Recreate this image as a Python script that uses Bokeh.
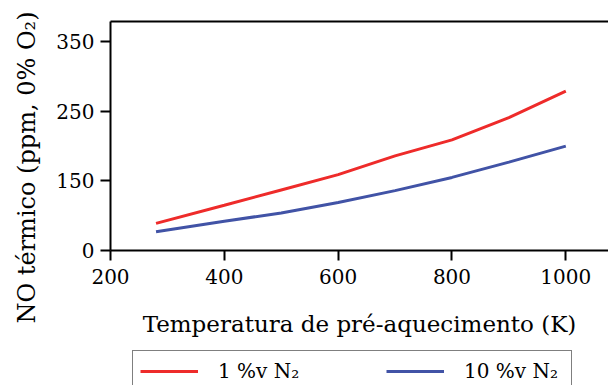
from bokeh.plotting import figure
from bokeh.layouts import column
from bokeh.models import (Range1d, FixedTicker, LinearAxis, Legend, LegendItem, Title)
from bokeh.embed import file_html
from bokeh.resources import INLINE

# data
temperature = [280, 400, 500, 600, 700, 800, 900, 1000]
no_1pct = [89, 115, 137, 159, 186, 209, 241, 279]
no_10pct = [77, 92, 104, 119, 136, 155, 177, 200]
x_ticks = [200, 400, 600, 800, 1000]
y_ticks = [50, 150, 250, 350]
y_tick_labels = {50: "0", 150: "150", 250: "250", 350: "350"}
series_labels = ["1 %v N\u2082", "10 %v N\u2082"]
series_colors = ["#EE2B2A", "#4153A6"]

FONT = "DejaVu Serif"

p = figure(width=608, height=349, output_backend="svg", toolbar_location=None,
           x_range=Range1d(200, 1075), y_range=Range1d(50, 379),
           min_border_left=108, min_border_right=0, min_border_top=21,
           min_border_bottom=99)
p.outline_line_color = None
p.grid.visible = False
p.background_fill_color = "white"
p.border_fill_color = "white"

p.line(temperature, no_1pct, line_color=series_colors[0], line_width=3)
p.line(temperature, no_10pct, line_color=series_colors[1], line_width=3)

for ax in (p.xaxis[0], p.yaxis[0]):
    ax.axis_line_width = 2
    ax.axis_line_color = "black"
    ax.major_tick_line_width = 2
    ax.major_tick_line_color = "black"
    ax.major_tick_out = 10
    ax.major_tick_in = 0
    ax.minor_tick_line_color = None
    ax.major_label_text_font = FONT
    ax.major_label_text_font_size = "20px"
    ax.major_label_text_color = "black"
    ax.axis_label_text_font = FONT
    ax.axis_label_text_font_size = "23px"
    ax.axis_label_text_font_style = "normal"
    ax.axis_label_text_color = "black"

p.xaxis.ticker = FixedTicker(ticks=x_ticks)
p.yaxis.ticker = FixedTicker(ticks=y_ticks)
p.yaxis.major_label_overrides = y_tick_labels
p.xaxis.major_label_standoff = 8
p.yaxis.major_label_standoff = 6

p.xaxis.axis_label = "Temperatura de pré-aquecimento (K)"
p.xaxis.axis_label_standoff = 24

# top border line
top = LinearAxis(ticker=FixedTicker(ticks=[]), axis_line_width=2,
                 axis_line_color="black", major_tick_line_color=None,
                 minor_tick_line_color=None, major_label_text_font_size="0px")
p.add_layout(top, "above")

# y-axis title (offset downward, as in the reference)
ytitle = Title(text="NO térmico (ppm, 0% O\u2082)", align="left", offset=-73,
               vertical_align="middle", standoff=23,
               text_font=FONT, text_font_size="24px", text_font_style="normal",
               text_color="black")
p.add_layout(ytitle, "left")

# legend strip below the chart (its lines lie outside its own ranges)
lg = figure(width=608, height=36, output_backend="svg", toolbar_location=None,
            x_range=Range1d(0, 1), y_range=Range1d(0, 1),
            x_axis_type=None, y_axis_type=None,
            min_border_left=108, min_border_right=0, min_border_top=0,
            min_border_bottom=0)
lg.outline_line_color = None
lg.grid.visible = False
lg.border_fill_color = "white"
lg_r1 = lg.line(temperature, no_1pct, line_color=series_colors[0], line_width=3)
lg_r2 = lg.line(temperature, no_10pct, line_color=series_colors[1], line_width=3)

legend = Legend(items=[LegendItem(label=series_labels[0], renderers=[lg_r1]),
                       LegendItem(label=series_labels[1], renderers=[lg_r2])],
                orientation="horizontal", location=(22, -7),
                padding=7, spacing=68, margin=0,
                glyph_width=58, glyph_height=26, label_height=26,
                label_width=100, label_standoff=20,
                label_text_font=FONT, label_text_font_size="20px",
                label_text_color="black",
                border_line_color="black", border_line_width=1.5,
                background_fill_color="white", background_fill_alpha=1)
lg.add_layout(legend)

layout = column(p, lg, spacing=0)
open("out.html", "w").write(file_html(layout, INLINE))
